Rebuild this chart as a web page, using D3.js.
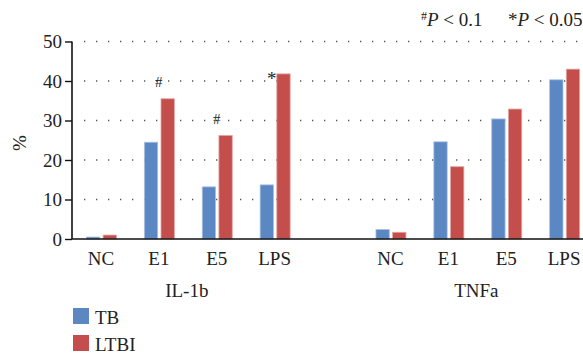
<!DOCTYPE html>
<html><head><meta charset="utf-8">
<script src="https://cdn.jsdelivr.net/npm/d3@7"></script>
<style>body{margin:0;background:#fff}svg{display:block}</style>
</head><body><svg id="c" width="583" height="354"></svg>
<script>
const groups = ["IL-1b", "TNFa"];
const categories = ["NC", "E1", "E5", "LPS"];
const series = ["TB", "LTBI"];
const tbValues = [0.5, 24.5, 13.2, 13.7, 2.4, 24.6, 30.4, 40.3];
const ltbiValues = [1.0, 35.5, 26.2, 41.8, 1.7, 18.3, 32.9, 43.0];
const marks = ["", "#", "#", "*", "", "", "", ""];
const yTicks = [0, 10, 20, 30, 40, 50];
const colors = {TB: "#5b87c3", LTBI: "#c44e4b"};
const strokes = {TB: "#a9c1e3", LTBI: "#e3a3a1"};
const FONT = "'Liberation Serif'";

const svg = d3.select("#c");
const slots = [];
groups.forEach((g, gi) => {
  categories.forEach(c => slots.push(g + "|" + c));
  if (gi < groups.length - 1) slots.push("gap" + gi);
});
const rows = [];
groups.forEach((g, gi) => categories.forEach((c, ci) => {
  const i = gi * categories.length + ci;
  rows.push({key: g + "|" + c, cat: c, TB: tbValues[i], LTBI: ltbiValues[i], mark: marks[i]});
}));

const x0 = d3.scaleBand().domain(slots).range([72, 72 + 57.9 * slots.length]);
const x1 = d3.scaleBand().domain(series).range([-14.5, 15.5]).paddingInner(0.2);
const y = d3.scaleLinear().domain([0, 50]).range([239, 41.5]);
const cx = k => x0(k) + x0.bandwidth() / 2;

// grid
svg.append("g").selectAll("line").data(yTicks.filter(t => t > 0)).join("line")
  .attr("x1", 84).attr("x2", 583).attr("y1", d => y(d)).attr("y2", d => y(d))
  .attr("stroke", "#555").attr("stroke-width", 1.3).attr("stroke-dasharray", "1.3,10.7");

// bars
const bg = svg.append("g").selectAll("g").data(rows).join("g")
  .attr("transform", d => `translate(${cx(d.key)},0)`);
bg.selectAll("rect").data(d => series.map(s => ({s, v: d[s]}))).join("rect")
  .attr("x", d => x1(d.s)).attr("width", x1.bandwidth())
  .attr("y", d => y(d.v)).attr("height", d => y(0) - y(d.v))
  .attr("fill", d => colors[d.s]).attr("stroke", d => strokes[d.s]).attr("stroke-width", 0.8);

// significance marks
svg.append("g").selectAll("text").data(rows.filter(r => r.mark)).join("text")
  .attr("x", d => cx(d.key) + (d.mark === "*" ? -3 : 0))
  .attr("y", d => d.mark === "*" ? y(d.LTBI) + 11 : y(d.LTBI) - 12)
  .attr("text-anchor", "middle").attr("font-size", d => d.mark === "*" ? 19 : 15)
  .text(d => d.mark);

// y axis
const ya = svg.append("g").attr("transform", "translate(72,0)")
  .call(d3.axisLeft(y).tickValues(yTicks).tickSize(7).tickPadding(3));
ya.select(".domain").attr("stroke", "#111").attr("stroke-width", 1.6).attr("d", `M0,${y(50)}V${y(0)}`);
ya.selectAll(".tick line").attr("stroke", "#111").attr("stroke-width", 1.4);
ya.selectAll(".tick text").attr("font-size", 19);

// x axis line
svg.append("line").attr("x1", 72).attr("x2", 583).attr("y1", y(0)).attr("y2", y(0))
  .attr("stroke", "#111").attr("stroke-width", 1.6);

// category labels
svg.append("g").selectAll("text").data(rows).join("text")
  .attr("x", d => cx(d.key)).attr("y", 265).attr("text-anchor", "middle")
  .attr("font-size", 19).text(d => d.cat);

// group labels
svg.append("g").selectAll("text").data(groups).join("text")
  .attr("x", g => (cx(g + "|" + categories[0]) + cx(g + "|" + categories[categories.length - 1])) / 2 - 1)
  .attr("y", 297).attr("text-anchor", "middle").attr("font-size", 19).text(g => g);

// y label
svg.append("text").attr("transform", "translate(26,143) rotate(-90)")
  .attr("text-anchor", "middle").attr("font-size", 19).text("%");

// legend
const lg = svg.append("g").selectAll("g").data(series).join("g")
  .attr("transform", (d, i) => `translate(73,${308 + i * 27})`);
lg.append("rect").attr("width", 16).attr("height", 16).attr("fill", d => colors[d]);
lg.append("text").attr("x", 22).attr("y", 15.5).attr("font-size", 19).text(d => d);

// p-value note
const note = svg.append("text").attr("y", 26).attr("font-size", 19);
note.append("tspan").attr("x", 421).attr("dy", -6).attr("font-size", 12).text("#");
note.append("tspan").attr("dy", 6).attr("font-style", "italic").text("P");
note.append("tspan").text(" < 0.1");
const note2 = svg.append("text").attr("x", 508).attr("y", 26).attr("font-size", 19);
note2.append("tspan").text("*");
note2.append("tspan").attr("font-style", "italic").text("P");
note2.append("tspan").text(" < 0.05");

svg.selectAll("text").style("font-family", FONT).style("fill", "#222");
</script></body></html>
